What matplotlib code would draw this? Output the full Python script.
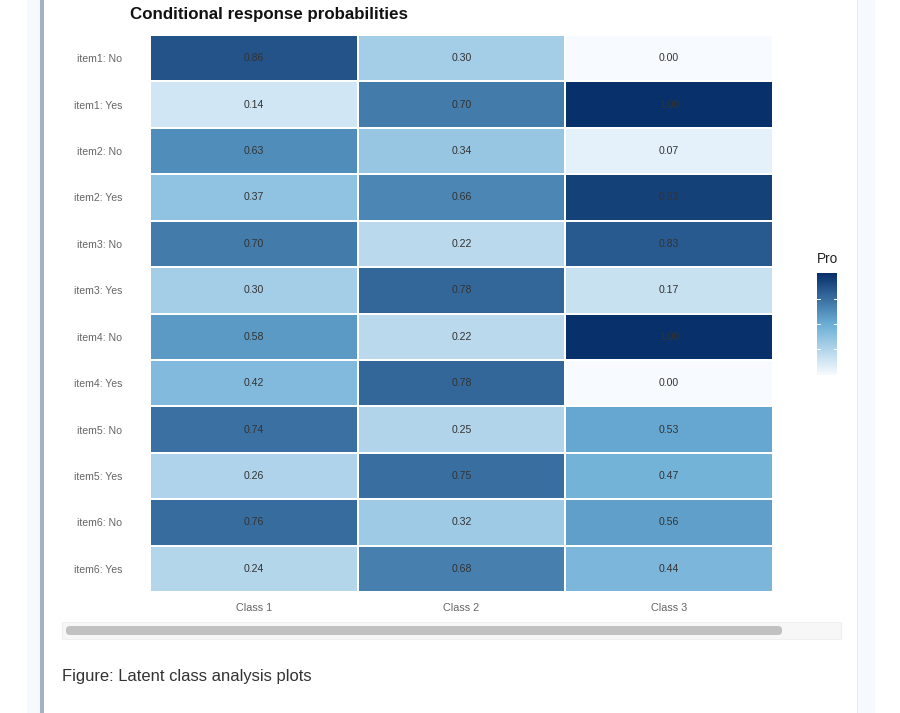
import numpy as np
import matplotlib
matplotlib.use("Agg")
import matplotlib.pyplot as plt
from matplotlib.colors import LinearSegmentedColormap
from matplotlib.patches import Rectangle, FancyBboxPatch

# Data
row_labels = ["item1: No", "item1: Yes", "item2: No", "item2: Yes",
              "item3: No", "item3: Yes", "item4: No", "item4: Yes",
              "item5: No", "item5: Yes", "item6: No", "item6: Yes"]
class_labels = ["Class 1", "Class 2", "Class 3"]
class1 = [0.86, 0.14, 0.63, 0.37, 0.70, 0.30, 0.58, 0.42, 0.74, 0.26, 0.76, 0.24]
class2 = [0.30, 0.70, 0.34, 0.66, 0.22, 0.78, 0.22, 0.78, 0.25, 0.75, 0.32, 0.68]
class3 = [0.00, 1.00, 0.07, 0.93, 0.83, 0.17, 1.00, 0.00, 0.53, 0.47, 0.56, 0.44]
colorbar_ticks = [0.25, 0.5, 0.75]

W, H = 900, 713
plt.rcParams['font.family'] = ['Liberation Sans', 'DejaVu Sans']

cmap = LinearSegmentedColormap.from_list("blues3", ["#f7fbff", "#6baed6", "#08306b"])


def px_axes(fig, x0, y0, x1, y1):
    """Add axes given pixel box (top-left origin)."""
    return fig.add_axes([x0 / W, 1 - y1 / H, (x1 - x0) / W, (y1 - y0) / H])


fig = plt.figure(figsize=(W / 100, H / 100), dpi=100)
fig.patch.set_facecolor("white")

# page decorations (screenshot frame)
fig.patches.append(Rectangle((27 / W, 0), 13 / W, 1, transform=fig.transFigure,
                             facecolor="#f6f9fd", edgecolor="none"))
fig.patches.append(Rectangle((40 / W, 0), 4 / W, 1, transform=fig.transFigure,
                             facecolor="#a4b0c6", edgecolor="none"))
fig.patches.append(Rectangle((857 / W, 0), 18 / W, 1, transform=fig.transFigure,
                             facecolor="#f6f9fd", edgecolor="none"))
fig.patches.append(Rectangle((857 / W, 0), 1.2 / W, 1, transform=fig.transFigure,
                             facecolor="#e3e9f2", edgecolor="none"))

# heatmap
data = np.array([class1, class2, class3]).T
ax = px_axes(fig, 150, 35, 773, 592)
ax.pcolormesh(data, cmap=cmap, vmin=0, vmax=1, edgecolors="white", linewidth=1.1)
ax.set_xlim(0, 3)
ax.set_ylim(len(row_labels), 0)
for i in range(data.shape[0]):
    for j in range(data.shape[1]):
        ax.text(j + 0.5, i + 0.5, f"{data[i, j]:.2f}", ha="center", va="center",
                fontsize=7.6, color="#333333")
ax.set_xticks(np.arange(3) + 0.5)
ax.set_xticklabels(class_labels, fontsize=7.8, color="#666666")
ax.set_yticks(np.arange(len(row_labels)) + 0.5)
ax.set_yticklabels(row_labels, fontsize=7.6, color="#666666")
ax.tick_params(axis="x", length=0, pad=8)
ax.tick_params(axis="y", length=0, pad=20)
for s in ax.spines.values():
    s.set_visible(False)

fig.text(130 / W, 1 - 14 / H, "Conditional response probabilities", fontsize=12.2,
         fontweight="bold", color="#111111", ha="left", va="center")

# colour legend (clipped by the page)
cax = px_axes(fig, 817, 273, 837, 375)
grad = np.linspace(1, 0, 200).reshape(-1, 1)
cax.imshow(grad, cmap=cmap, vmin=0, vmax=1, aspect="auto", extent=[0, 1, 0, 1])
for t in colorbar_ticks:
    cax.plot([0, 0.15], [t, t], color="white", lw=0.7)
    cax.plot([0.85, 1], [t, t], color="white", lw=0.7)
cax.set_xlim(0, 1)
cax.set_ylim(0, 1)
cax.axis("off")
fig.text(817 / W, 1 - 259 / H, "Pro", fontsize=9.8, color="#222222", ha="left", va="center")

# horizontal scrollbar
fig.patches.append(Rectangle((62 / W, 1 - 639 / H), 779 / W, 17 / H, transform=fig.transFigure,
                             facecolor="#f7f7f7", edgecolor="#eeeeee", lw=0.6))
fig.patches.append(FancyBboxPatch((66 / W, 1 - 635 / H), 716 / W, 9 / H,
                                  boxstyle="round,pad=0,rounding_size=0.005",
                                  transform=fig.transFigure,
                                  facecolor="#c1c1c1", edgecolor="none"))

fig.text(62 / W, 1 - 676 / H, "Figure: Latent class analysis plots", fontsize=11.9,
         color="#333333", ha="left", va="center")

fig.savefig("out.png", dpi=100)
